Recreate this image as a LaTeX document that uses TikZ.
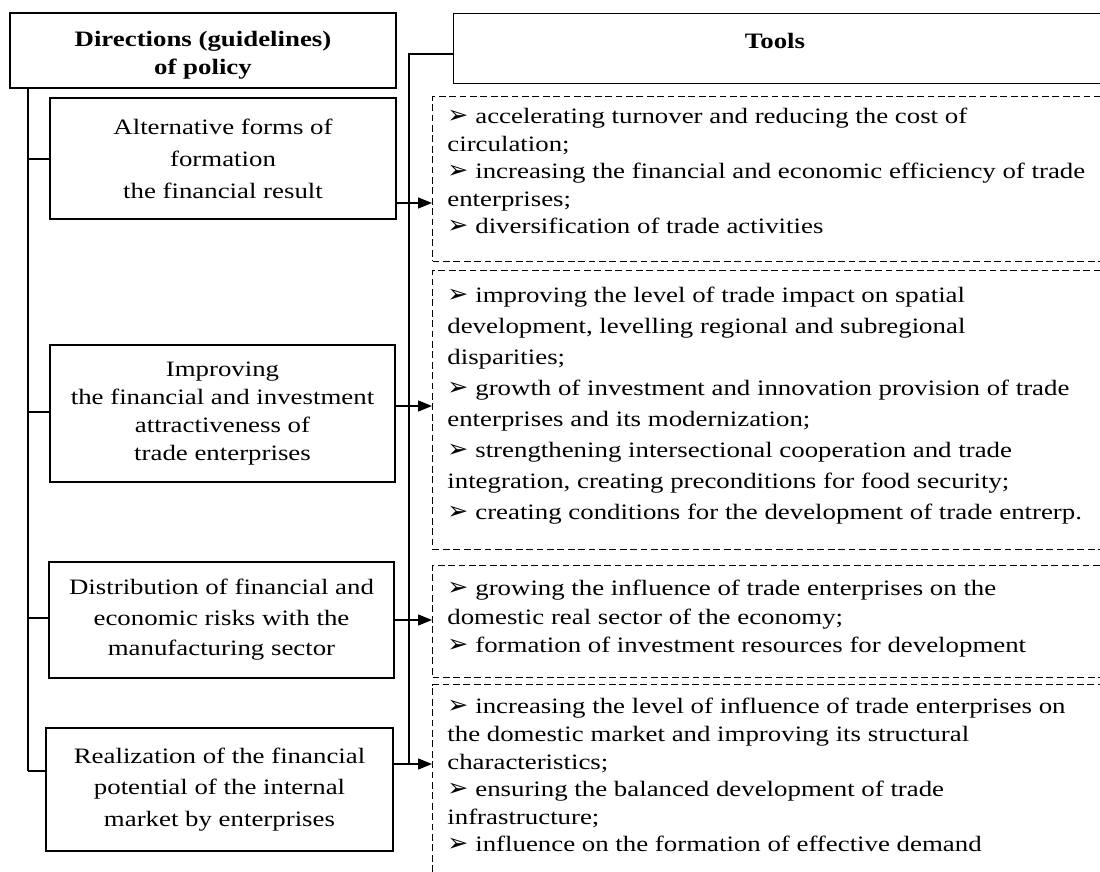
\documentclass[tikz,border=0pt]{standalone}
\usepackage{fontspec}
\setmainfont[FakeStretch=1.22]{Liberation Serif}
\newfontfamily\arrowfont{DejaVu Sans}
\usepackage{tikz}
\usetikzlibrary{positioning, shapes, arrows.meta, calc}

\newcommand{\bul}{{\arrowfont\fontsize{12.5}{10}\selectfont ➢}\hspace{3.5pt}}

\tikzset{
  dirbox/.style={draw, line width=0.7pt, align=center, inner sep=0pt},
  toolbox/.style={draw, dash pattern=on 3.4pt off 1.8pt, line width=0.5pt, anchor=north west, inner sep=0pt},
  listtext/.style={anchor=north west, align=left, inner sep=0pt},
  conn/.style={line width=0.7pt},
  arr/.style={-{Triangle[length=7pt,width=5.5pt]}, line width=0.7pt}
}

\begin{document}
\begin{tikzpicture}[x=0.5pt, y=-0.5pt, font=\fontsize{11}{13.5}\selectfont]
\useasboundingbox (0,0) rectangle (1100,872);

% Nodes
\node[dirbox, minimum width=193pt, minimum height=37.5pt] (head) at (203,50.5) {};
\node[align=center, font=\bfseries\fontsize{11}{14}\selectfont] (headtitle) at (203,55) {Directions (guidelines)\\of policy};
\node[dirbox, anchor=north west, minimum width=328.5pt, minimum height=35pt] (tools) at (453,13) {};
\node[font=\bfseries\fontsize{11}{14}\selectfont] (toolstitle) at (775,41) {Tools};

\node[dirbox, minimum width=173pt, minimum height=60.5pt, font=\fontsize{11}{16}\selectfont] (dir1) at (223,158.5) {Alternative forms of\\formation\\the financial result};
\node[dirbox, minimum width=172.5pt, minimum height=68.5pt, font=\fontsize{11}{14}\selectfont] (dir2) at (222.5,413.5) {Improving\\the financial and investment\\attractiveness of\\trade enterprises};
\node[dirbox, minimum width=172.5pt, minimum height=58pt, font=\fontsize{11}{15.25}\selectfont] (dir3) at (221.5,620) {Distribution of financial and\\economic risks with the\\manufacturing sector};
\node[dirbox, minimum width=173.5pt, minimum height=61.5pt, font=\fontsize{11}{15.75}\selectfont] (dir4) at (219.5,789.5) {Realization of the financial\\potential of the internal\\market by enterprises};

\node[toolbox, minimum width=339pt, minimum height=82.5pt] (tool1) at (432,96) {};
\node[toolbox, minimum width=339pt, minimum height=139.5pt] (tool2) at (432,270) {};
\node[toolbox, minimum width=339pt, minimum height=56pt] (tool3) at (432,565) {};
\node[toolbox, minimum width=339pt, minimum height=100pt] (tool4) at (432,684) {};

\node[listtext, font=\fontsize{11}{13.75}\selectfont] (list1) at (447,108) {\bul accelerating turnover and reducing the cost of\\circulation;\\\bul increasing the financial and economic efficiency of trade\\enterprises;\\\bul diversification of trade activities};
\node[listtext, font=\fontsize{11}{15.5}\selectfont] (list2) at (447,287) {\bul improving the level of trade impact on spatial\\development, levelling regional and subregional\\disparities;\\\bul growth of investment and innovation provision of trade\\enterprises and its modernization;\\\bul strengthening intersectional cooperation and trade\\integration, creating preconditions for food security;\\\bul creating conditions for the development of trade entrerp.};
\node[listtext, font=\fontsize{11}{14.25}\selectfont] (list3) at (447,580) {\bul growing the influence of trade enterprises on the\\domestic real sector of the economy;\\\bul formation of investment resources for development};
\node[listtext, font=\fontsize{11}{13.8}\selectfont] (list4) at (447,698) {\bul increasing the level of influence of trade enterprises on\\the domestic market and improving its structural\\characteristics;\\\bul ensuring the balanced development of trade\\infrastructure;\\\bul influence on the formation of effective demand};

% Lines
\foreach \i/\y in {1/159,2/412,3/618,4/771}
  \coordinate (sp\i) at (28,\y);
\foreach \i/\y in {1/203,2/406,3/620,4/764}
  \coordinate (ay\i) at (409,\y);
\coordinate (rs) at (409,54);

\draw[conn] (head.south -| sp1) -- (sp4);
\foreach \i in {1,2,3,4}
  \draw[conn] (sp\i) -- (dir\i.west |- sp\i);
\draw[conn] (tools.west |- rs) -- (rs) -- (ay4);

% Arrows
\foreach \i in {1,2,3,4}
  \draw[arr] (dir\i.east |- ay\i) -- (tool\i.west |- ay\i);
\end{tikzpicture}
\end{document}
